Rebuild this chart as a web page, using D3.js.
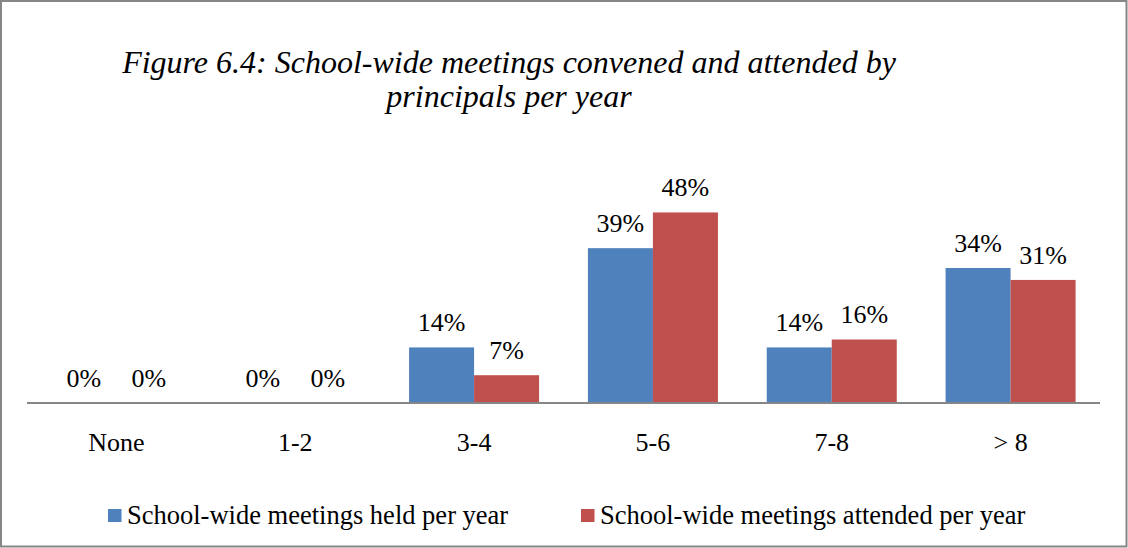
<!DOCTYPE html>
<html>
<head>
<meta charset="utf-8">
<script src="https://cdn.jsdelivr.net/npm/d3@7"></script>
<style>
  html, body { margin: 0; padding: 0; background: #fff; }
  svg { display: block; }
  text { font-family: "Liberation Serif", "Times New Roman", serif; fill: #000; }
</style>
</head>
<body>
<svg id="chart" width="1128" height="548"></svg>
<script>
// Meeting-frequency buckets and the share of principals in each
const categories = ["None", "1-2", "3-4", "5-6", "7-8", "> 8"];
const heldPerYear = [0, 0, 14, 39, 14, 34];
const attendedPerYear = [0, 0, 7, 48, 16, 31];
const seriesNames = ["School-wide meetings held per year", "School-wide meetings attended per year"];
const seriesColors = ["#4F81BD", "#C0504D"];
const titleLines = ["Figure 6.4: School-wide meetings convened and attended by", "principals per year"];

const W = 1128, H = 548;
const svg = d3.select("#chart");

// outer frame
svg.append("rect")
  .attr("x", 1).attr("y", 1).attr("width", W - 2.5).attr("height", H - 2.5)
  .attr("fill", "#fff").attr("stroke", "#868686").attr("stroke-width", 2);

const plot = { left: 27, right: 1100, baseline: 403 };

const x0 = d3.scaleBand().domain(categories).range([plot.left, plot.right]).paddingInner(0.273).paddingOuter(0.1365);
const x1 = d3.scaleBand().domain([0, 1]).range([0, x0.bandwidth()]);
const y = d3.scaleLinear().domain([0, 60]).range([plot.baseline, plot.baseline - 238.2]);

const series = [heldPerYear, attendedPerYear];

// title
const title = svg.append("text")
  .attr("text-anchor", "middle")
  .style("font-style", "italic")
  .style("font-size", "32px");
title.selectAll("tspan").data(titleLines).join("tspan")
  .attr("x", 509)
  .attr("y", (d, i) => 73 + i * 34)
  .text(d => d);

// bars
const groups = svg.append("g").selectAll("g")
  .data(categories)
  .join("g")
  .attr("transform", d => `translate(${x0(d)},0)`);

groups.selectAll("rect")
  .data((d, i) => series.map((s, k) => ({ k, v: s[i] })))
  .join("rect")
  .attr("x", d => x1(d.k))
  .attr("y", d => y(d.v))
  .attr("width", x1.bandwidth())
  .attr("height", d => plot.baseline - y(d.v))
  .attr("fill", d => seriesColors[d.k]);

// value labels
groups.selectAll("text.val")
  .data((d, i) => series.map((s, k) => ({ k, v: s[i] })))
  .join("text")
  .attr("class", "val")
  .attr("text-anchor", "middle")
  .attr("x", d => x1(d.k) + x1.bandwidth() / 2)
  .attr("y", d => y(d.v) - 16)
  .style("font-size", "26px")
  .text(d => d.v + "%");

// category axis
const axis = svg.append("g")
  .attr("transform", `translate(0,${plot.baseline})`)
  .call(d3.axisBottom(x0).tickSize(0).tickPadding(30).tickSizeOuter(0));
axis.select(".domain")
  .attr("d", `M${plot.left},0H${plot.right}`)
  .attr("stroke", "#868686").attr("stroke-width", 2);
axis.selectAll(".tick text")
  .style("font-family", "'Liberation Serif', 'Times New Roman', serif")
  .style("font-size", "26px")
  .attr("fill", "#000");

// legend
const legendPos = [108, 581];
const legend = svg.append("g").selectAll("g")
  .data(seriesNames)
  .join("g")
  .attr("transform", (d, i) => `translate(${legendPos[i]},509)`);
legend.append("rect")
  .attr("width", 13.5).attr("height", 13)
  .attr("fill", (d, i) => seriesColors[i]);
legend.append("text")
  .attr("x", 19).attr("y", 15)
  .style("font-size", "26.5px")
  .text(d => d);
</script>
</body>
</html>
